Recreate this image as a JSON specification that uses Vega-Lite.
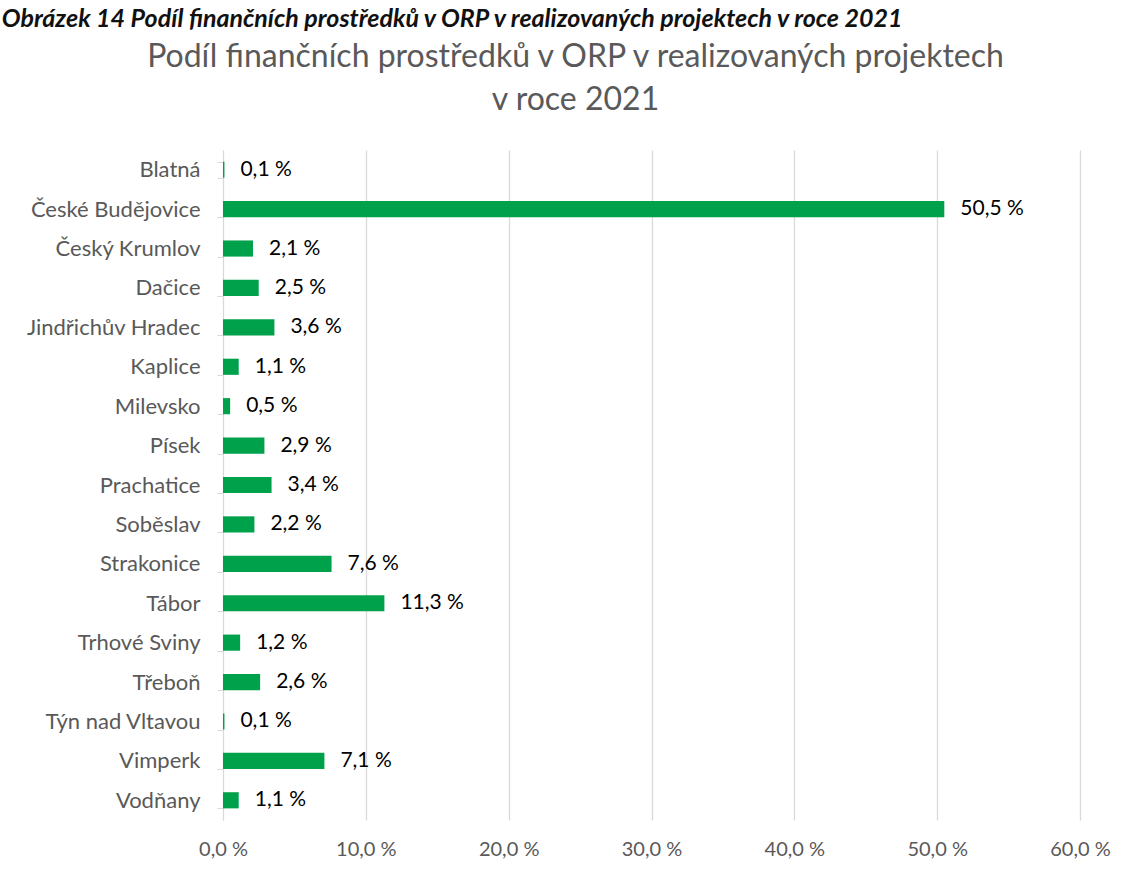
{
  "$schema": "https://vega.github.io/schema/vega-lite/v6.json",
  "width": 857,
  "height": 670,
  "autosize": {"type": "none"},
  "padding": {"left": 223, "top": 150, "right": 52, "bottom": 55},
  "background": "white",
  "title": {
    "text": "Obrázek 14 Podíl finančních prostředků v ORP v realizovaných projektech v roce 2021",
    "anchor": "start",
    "frame": "bounds",
    "font": "Lato",
    "fontSize": 25,
    "fontWeight": "bold",
    "fontStyle": "italic",
    "color": "#111111",
    "baseline": "alphabetic",
    "offset": 1,
    "dy": 13,
    "dx": -24
  },
  "data": {
    "values": [
      {"orp": "Blatná", "value": 0.1},
      {"orp": "České Budějovice", "value": 50.5},
      {"orp": "Český Krumlov", "value": 2.1},
      {"orp": "Dačice", "value": 2.5},
      {"orp": "Jindřichův Hradec", "value": 3.6},
      {"orp": "Kaplice", "value": 1.1},
      {"orp": "Milevsko", "value": 0.5},
      {"orp": "Písek", "value": 2.9},
      {"orp": "Prachatice", "value": 3.4},
      {"orp": "Soběslav", "value": 2.2},
      {"orp": "Strakonice", "value": 7.6},
      {"orp": "Tábor", "value": 11.3},
      {"orp": "Trhové Sviny", "value": 1.2},
      {"orp": "Třeboň", "value": 2.6},
      {"orp": "Týn nad Vltavou", "value": 0.1},
      {"orp": "Vimperk", "value": 7.1},
      {"orp": "Vodňany", "value": 1.1}
    ]
  },
  "encoding": {
    "y": {
      "field": "orp",
      "type": "nominal",
      "sort": null,
      "scale": {"paddingInner": 0.59, "paddingOuter": 0.295},
      "axis": {
        "title": null,
        "labelFont": "Lato",
        "labelFontSize": 22,
        "labelColor": "#595959",
        "labelPadding": 17,
        "domainColor": "#d9d9d9",
        "tickColor": "#d9d9d9",
        "tickSize": 6,
        "tickBand": "extent",
        "grid": false
      }
    }
  },
  "layer": [
    {
      "mark": {"type": "bar", "color": "#00A14B"},
      "encoding": {
        "x": {
          "field": "value",
          "type": "quantitative",
          "scale": {"domain": [0, 60], "nice": false},
          "axis": {
            "orient": "bottom",
            "title": null,
            "values": [0, 10, 20, 30, 40, 50, 60],
            "labelExpr": "replace(format(datum.value, '.1f'), '.', ',') + ' %'",
            "labelFont": "Lato",
            "labelFontSize": 20,
            "labelColor": "#595959",
            "labelPadding": 19,
            "labelFlush": false,
            "ticks": false,
            "domain": false,
            "grid": true,
            "gridColor": "#d9d9d9",
            "gridWidth": 1.3
          }
        }
      }
    },
    {
      "mark": {
        "type": "text",
        "align": "left",
        "baseline": "middle",
        "dx": 16,
        "font": "Lato",
        "fontSize": 21,
        "color": "#000000",
        "text": {"expr": "replace(format(datum.value, '.1f'), '.', ',') + ' %'"}
      },
      "encoding": {
        "x": {
          "field": "value",
          "type": "quantitative",
          "axis": {
            "orient": "top",
            "title": ["Podíl finančních prostředků v ORP v realizovaných projektech", "v roce 2021"],
            "titleFont": "Lato",
            "titleFontSize": 32,
            "titleFontWeight": "normal",
            "titleColor": "#595959",
            "titleX": 352,
            "titleY": -84,
            "titleAlign": "center",
            "titleBaseline": "alphabetic",
            "titleLineHeight": 43,
            "labels": false,
            "ticks": false,
            "domain": false,
            "grid": false
          }
        }
      }
    }
  ],
  "resolve": {"axis": {"x": "independent"}},
  "config": {"view": {"stroke": null}}
}
